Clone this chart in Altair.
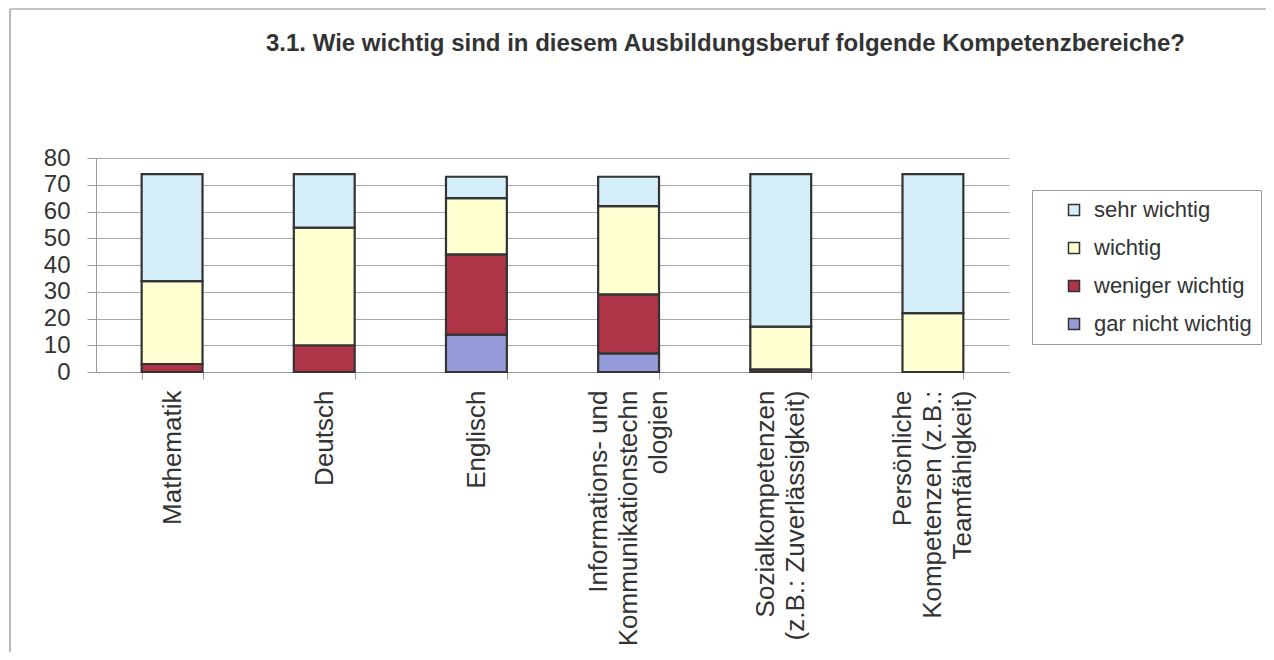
import altair as alt
import pandas as pd

# ---- data ----
categories = [
    "Mathematik",
    "Deutsch",
    "Englisch",
    "Informations- und\nKommunikationstechn\nologien",
    "Sozialkompetenzen\n(z.B.: Zuverlässigkeit)",
    "Persönliche\nKompetenzen (z.B.:\nTeamfähigkeit)",
]
levels = ["gar nicht wichtig", "weniger wichtig", "wichtig", "sehr wichtig"]
gar_nicht_wichtig = [0, 0, 14, 7, 0, 0]
weniger_wichtig = [3, 10, 30, 22, 1, 0]
wichtig = [31, 44, 21, 33, 16, 22]
sehr_wichtig = [40, 20, 8, 11, 57, 52]

legend_order = ["sehr wichtig", "wichtig", "weniger wichtig", "gar nicht wichtig"]
legend_colors = ["#d4eff9", "#ffffd2", "#ad3547", "#959bd8"]
y_ticks = [0, 10, 20, 30, 40, 50, 60, 70, 80]

title_text = "3.1. Wie wichtig sind in diesem Ausbildungsberuf folgende Kompetenzbereiche?"

series = [gar_nicht_wichtig, weniger_wichtig, wichtig, sehr_wichtig]
rows = []
for i, cat in enumerate(categories):
    for rank, (lvl, vals) in enumerate(zip(levels, series)):
        rows.append({"Kategorie": cat, "Stufe": lvl, "Wert": vals[i], "rank": rank})
df = pd.DataFrame(rows)

FONT = "Liberation Sans"
LINE_H = 30
n_lines = "length(split(datum.label, '\\n'))"

bars = (
    alt.Chart(df)
    .transform_filter("datum.Wert > 0")
    .mark_bar(stroke="#333333", strokeWidth=2.2)
    .encode(
        x=alt.X(
            "Kategorie:N",
            sort=categories,
            scale=alt.Scale(paddingInner=0.6, paddingOuter=0.3),
            axis=alt.Axis(
                title=None,
                labelAngle=270,
                labelAlign="right",
                labelBaseline="middle",
                labelFontSize=26,
                labelLineHeight=LINE_H,
                labelPadding=11,
                labelColor="#333333",
                labelExpr="split(datum.label, '\\n')",
                labelOffset={
                    "condition": [
                        {"test": n_lines + " == 3", "value": -LINE_H},
                        {"test": n_lines + " == 2", "value": -LINE_H / 2},
                    ],
                    "value": 0,
                },
                tickSize=7,
                tickBand="extent",
                tickColor="#999999",
                domainColor="#999999",
                grid=False,
                labelLimit=400,
            ),
        ),
        y=alt.Y(
            "Wert:Q",
            stack="zero",
            scale=alt.Scale(domain=[0, 80], nice=False),
            axis=alt.Axis(
                title=None,
                values=y_ticks,
                labelFontSize=24,
                labelPadding=17,
                labelColor="#333333",
                tickSize=9,
                tickColor="#999999",
                domainColor="#999999",
                grid=True,
                gridColor="#a8a8a8",
                gridWidth=1,
            ),
        ),
        color=alt.Color(
            "Stufe:N",
            scale=alt.Scale(domain=legend_order, range=legend_colors),
            legend=alt.Legend(
                title=None,
                orient="none",
                legendX=936,
                legendY=32,
                symbolType="square",
                symbolSize=121,
                symbolStrokeColor="#333333",
                symbolStrokeWidth=1.5,
                symbolOffset=22,
                labelOffset=9,
                labelFontSize=22,
                labelColor="#333333",
                labelExpr="datum.label + '            '",
                rowPadding=16,
                padding=9,
                strokeColor="#999999",
            ),
        ),
        order=alt.Order("rank:Q", sort="ascending"),
    )
)

frame_df = pd.DataFrame({"k": [0]})
frame_left = alt.Chart(frame_df).mark_rule(color="#a0a0a0", strokeWidth=1.5).encode(
    x=alt.value(-86), y=alt.value(-149), y2=alt.value(494)
)
frame_top = alt.Chart(frame_df).mark_rule(color="#b0b0b0", strokeWidth=1.5).encode(
    x=alt.value(-86), x2=alt.value(1170), y=alt.value(-149)
)

chart = (
    alt.layer(frame_left, frame_top, bars)
    .properties(
        width=913,
        height=214,
        autosize=alt.AutoSizeParams(type="none"),
        padding={"left": 88, "top": 150, "right": 257, "bottom": 280},
        title=alt.TitleParams(
            title_text,
            font=FONT,
            fontSize=24,
            fontWeight="bold",
            color="#333333",
            anchor="middle",
            frame="group",
            dx=173,
            offset=-67,
            baseline="alphabetic",
        ),
    )
    .configure_view(stroke=None)
    .configure_axis(labelFont=FONT)
    .configure_legend(labelFont=FONT)
)

chart.save("out.html", embed_options={"renderer": "svg", "actions": False})
